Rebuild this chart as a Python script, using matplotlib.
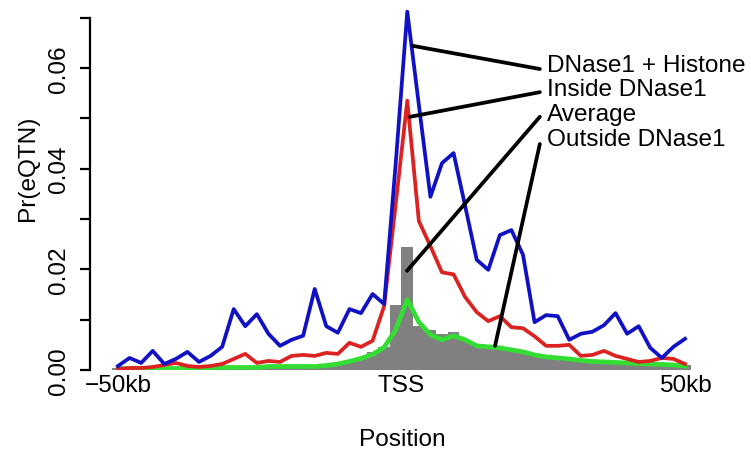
import numpy as np
import matplotlib.pyplot as plt

plt.rcParams['font.family'] = ['Liberation Sans', 'DejaVu Sans']

# 2kb bins from -50kb to 50kb around the TSS
pos_kb = np.linspace(-50, 50, 50)

dnase_histone = [0.0008, 0.0024, 0.0014, 0.0038, 0.0012, 0.0022, 0.0036, 0.0016, 0.0028, 0.0046,
                 0.0121, 0.0087, 0.0111, 0.0072, 0.0048, 0.0060, 0.0068, 0.0161, 0.0087, 0.0074,
                 0.0121, 0.0113, 0.0151, 0.0131, 0.0410, 0.0712, 0.0527, 0.0344, 0.0411, 0.0431,
                 0.0326, 0.0219, 0.0199, 0.0268, 0.0278, 0.0229, 0.0095, 0.0109, 0.0107, 0.0060,
                 0.0072, 0.0076, 0.0089, 0.0113, 0.0072, 0.0087, 0.0044, 0.0024, 0.0046, 0.0062]

inside_dnase = [0.0002, 0.0004, 0.0004, 0.0006, 0.0010, 0.0014, 0.0008, 0.0006, 0.0008, 0.0012,
                0.0022, 0.0032, 0.0014, 0.0018, 0.0016, 0.0028, 0.0030, 0.0028, 0.0034, 0.0032,
                0.0054, 0.0046, 0.0058, 0.0127, 0.0330, 0.0535, 0.0296, 0.0246, 0.0194, 0.0190,
                0.0145, 0.0115, 0.0097, 0.0107, 0.0085, 0.0083, 0.0067, 0.0048, 0.0048, 0.0050,
                0.0028, 0.0030, 0.0038, 0.0028, 0.0022, 0.0016, 0.0018, 0.0024, 0.0022, 0.0012]

outside_dnase = [0.0003, 0.0003, 0.0003, 0.0003, 0.0003, 0.0003, 0.0003, 0.0005, 0.0005, 0.0005,
                 0.0005, 0.0005, 0.0005, 0.0007, 0.0007, 0.0007, 0.0007, 0.0007, 0.0009, 0.0012,
                 0.0017, 0.0023, 0.0031, 0.0045, 0.0080, 0.0140, 0.0095, 0.0070, 0.0060, 0.0068,
                 0.0060, 0.0048, 0.0046, 0.0044, 0.0040, 0.0036, 0.0030, 0.0026, 0.0024, 0.0022,
                 0.0019, 0.0017, 0.0016, 0.0015, 0.0014, 0.0013, 0.0012, 0.0011, 0.0010, 0.0008]

average = [0.0004, 0.0004, 0.0004, 0.0004, 0.0004, 0.0004, 0.0004, 0.0004, 0.0004, 0.0004,
           0.0006, 0.0006, 0.0007, 0.0007, 0.0007, 0.0008, 0.0008, 0.0008, 0.0010, 0.0013,
           0.0017, 0.0024, 0.0036, 0.0046, 0.0129, 0.0244, 0.0087, 0.0080, 0.0072, 0.0076,
           0.0060, 0.0052, 0.0048, 0.0045, 0.0040, 0.0036, 0.0030, 0.0027, 0.0024, 0.0021,
           0.0018, 0.0017, 0.0016, 0.0015, 0.0014, 0.0013, 0.0012, 0.0011, 0.0010, 0.0009]

xtick_pos = [-50, 0, 50]
xtick_labels = ['\u221250kb', 'TSS', '50kb']
labels = ['DNase1 + Histone', 'Inside DNase1', 'Average', 'Outside DNase1']

fs = 17.6

fig = plt.figure(figsize=(7.51, 4.52), dpi=100)
ax = fig.add_axes([90 / 751, 81 / 452, 610 / 751, 362.4 / 452])

step = pos_kb[1] - pos_kb[0]
ax.bar(pos_kb, average, width=step, color='#808080', linewidth=0, zorder=1)
ax.plot(pos_kb, outside_dnase, color='#33dd33', lw=3.4, zorder=2, solid_joinstyle='round')
ax.plot(pos_kb, inside_dnase, color='#dd2222', lw=2.7, zorder=3, solid_joinstyle='round')
ax.plot(pos_kb, dnase_histone, color='#1010c4', lw=2.7, zorder=4, solid_joinstyle='round',
        clip_on=False)

ax.set_xlim(-54.94, 52.65)
ax.set_ylim(0, 0.072)

# pointer lines from each label to its curve
anchors = [(2.0, 0.0644), (1.5, 0.0503), (0.97, 0.0197), (16.5, 0.0048)]
line_ends = [0.0598, 0.0552, 0.0503, 0.0449]
text_y = [0.0606, 0.0558, 0.0508, 0.0459]
for (ax_x, ax_y), y_end, ty, lab in zip(anchors, line_ends, text_y, labels):
    ax.plot([ax_x, 24.4], [ax_y, y_end], color='black', lw=2.7, zorder=5,
            solid_capstyle='round', clip_on=False)
    ax.text(25.6, ty, lab, fontsize=fs, va='center', ha='left', zorder=6)

for s in ['top', 'right', 'bottom']:
    ax.spines[s].set_visible(False)
ax.spines['left'].set_bounds(0, 0.07)
ax.spines['left'].set_linewidth(1.6)

ax.set_yticks([0, 0.02, 0.04, 0.06])
ax.set_yticklabels(['0.00', '0.02', '0.04', '0.06'], rotation=90, va='center', fontsize=fs)
ax.set_yticks([0.01, 0.03, 0.05, 0.07], minor=True)
ax.tick_params(axis='y', which='both', direction='out', length=7.5, width=1.6, pad=7)

ax.set_xticks(xtick_pos)
ax.set_xticklabels(xtick_labels, fontsize=fs)
ax.tick_params(axis='x', length=0, pad=3)

ax.set_xlabel('Position', fontsize=fs)
ax.xaxis.set_label_coords(0.5115, -0.19)
ax.xaxis.label.set_va('center')
ax.set_ylabel('Pr(eQTN)', fontsize=fs)
ax.yaxis.set_label_coords(-0.102, 0.558)
ax.yaxis.label.set_va('center')

fig.savefig('out.png', dpi=100)
